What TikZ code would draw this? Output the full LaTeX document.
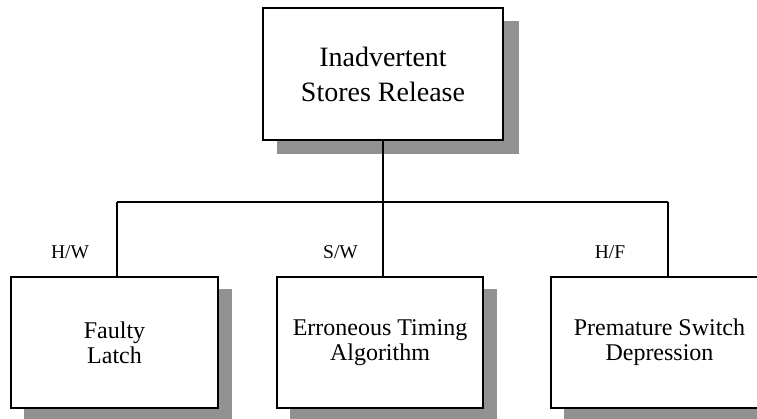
\documentclass[tikz,border=0pt]{standalone}
\usepackage{fontspec}
\setmainfont{Liberation Serif}
\begin{document}
\begin{tikzpicture}[x=1pt,y=1pt,
  faultbox/.style={draw=black, line width=1.8pt, fill=white, align=center,
    inner sep=0pt, minimum width=#1, minimum height=131pt},
  shade/.style={fill=black!43, draw=none},
  link/.style={line width=1.4pt},
  branch/.style={font=\fontsize{19.5}{21}\selectfont},
  toptext/.style={font=\fontsize{28}{35}\selectfont},
  leaftext/.style={font=\fontsize{24}{25}\selectfont}]
\useasboundingbox (0,0) rectangle (757,419);

% drop shadows behind the boxes
\fill[shade] (277,265) rectangle (519,398);
\fill[shade] (24,0) rectangle (232,130);
\fill[shade] (290,0) rectangle (497,130);
\fill[shade] (564,0) rectangle (772,130);

% top event
\node[faultbox=240pt, minimum height=132pt, toptext] (top) at (383,345)
  {Inadvertent\\Stores Release};

% contributing causes
\node[faultbox=207pt, leaftext] (b1) at (114.5,76.5) {Faulty\\Latch};
\node[faultbox=206pt, leaftext] (b2) at (380,76.5) {Erroneous Timing\\Algorithm};
\node[faultbox=207pt, leaftext] (b3) at (654.5,76.5) {\hspace*{10pt}Premature Switch\\\hspace*{10pt}Depression};

% branch junctions
\coordinate (bar) at (383,217);
\coordinate (j1) at (117,217);
\coordinate (j3) at (668,217);

\draw[link] (top.south) -- (bar);
\draw[link] (j1) -- (j3);
\draw[link] (j1) -- (j1 |- b1.north);
\draw[link] (bar) -- (bar |- b2.north);
\draw[link] (j3) -- (j3 |- b3.north);

% branch labels
\node[branch] (l1) at (70,167) {H/W};
\node[branch] (l2) at (340.5,167) {S/W};
\node[branch] (l3) at (610,167) {H/F};
\end{tikzpicture}
\end{document}
